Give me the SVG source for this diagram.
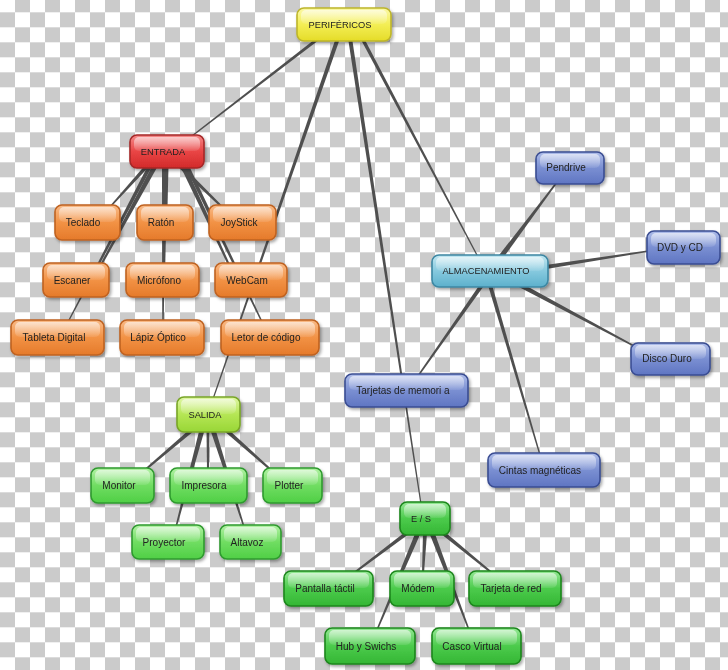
<svg xmlns="http://www.w3.org/2000/svg" width="728" height="670" viewBox="0 0 728 670">
<style>
.body{stroke-width:1.6}
.gloss{fill:url(#gloss)}
text{font-family:"Liberation Sans",Arial,sans-serif;font-size:10px;fill:#222;text-anchor:middle}
text.up{font-size:9.3px}
.yellow .body{fill:url(#gYellow);stroke:#bdb52a}
.red .body{fill:url(#gRed);stroke:#a52828}
.orange .body{fill:url(#gOrange);stroke:#bf6220}
.cyan .body{fill:url(#gCyan);stroke:#3c87a3}
.blue .body{fill:url(#gBlue);stroke:#3a4d92}
.lime .body{fill:url(#gLime);stroke:#78a526}
.lgreen .body{fill:url(#gLGreen);stroke:#2f9a2f}
.green .body{fill:url(#gGreen);stroke:#1d861d}
.node{filter:url(#shadow)}
#connectors polygon{fill:#4f4f4f}
</style>
<defs>
<pattern id="checker" x="0" y="-2.7" width="30" height="30" patternUnits="userSpaceOnUse">
<rect width="30" height="30" fill="#ffffff"/>
<rect x="15" y="0" width="15" height="15" fill="#cbcbcb"/>
<rect x="0" y="15" width="15" height="15" fill="#cbcbcb"/>
</pattern>
<filter id="shadow" x="-20%" y="-30%" width="140%" height="170%">
<feDropShadow dx="1.5" dy="2" stdDeviation="1.5" flood-color="#000" flood-opacity="0.35"/>
</filter>
<linearGradient id="gloss" x1="0" y1="0" x2="0" y2="1">
<stop offset="0" stop-color="#fff" stop-opacity="0.6"/>
<stop offset="1" stop-color="#fff" stop-opacity="0.08"/>
</linearGradient>
<linearGradient id="gYellow" x1="0" y1="0" x2="0" y2="1"><stop offset="0" stop-color="#fbf9a8"/><stop offset="0.5" stop-color="#f3ee55"/><stop offset="1" stop-color="#e5dc28"/></linearGradient>
<linearGradient id="gRed" x1="0" y1="0" x2="0" y2="1"><stop offset="0" stop-color="#f58a8a"/><stop offset="0.5" stop-color="#e94545"/><stop offset="1" stop-color="#d22a2a"/></linearGradient>
<linearGradient id="gOrange" x1="0" y1="0" x2="0" y2="1"><stop offset="0" stop-color="#f9bb88"/><stop offset="0.5" stop-color="#f29245"/><stop offset="1" stop-color="#e57a2a"/></linearGradient>
<linearGradient id="gCyan" x1="0" y1="0" x2="0" y2="1"><stop offset="0" stop-color="#c2e7f1"/><stop offset="0.5" stop-color="#86c9de"/><stop offset="1" stop-color="#5cb0cc"/></linearGradient>
<linearGradient id="gBlue" x1="0" y1="0" x2="0" y2="1"><stop offset="0" stop-color="#aebde9"/><stop offset="0.5" stop-color="#7a8fd2"/><stop offset="1" stop-color="#5f75c2"/></linearGradient>
<linearGradient id="gLime" x1="0" y1="0" x2="0" y2="1"><stop offset="0" stop-color="#e0f7a6"/><stop offset="0.5" stop-color="#b5e654"/><stop offset="1" stop-color="#98d636"/></linearGradient>
<linearGradient id="gLGreen" x1="0" y1="0" x2="0" y2="1"><stop offset="0" stop-color="#b2f2a4"/><stop offset="0.5" stop-color="#70dd62"/><stop offset="1" stop-color="#4fcf45"/></linearGradient>
<linearGradient id="gGreen" x1="0" y1="0" x2="0" y2="1"><stop offset="0" stop-color="#94e894"/><stop offset="0.5" stop-color="#4ccb4c"/><stop offset="1" stop-color="#34b634"/></linearGradient>
</defs>

<rect width="728" height="670" fill="url(#checker)"/>

<g id="connectors">
<polygon points="0,-1.5 1,-0.7 1,0.7 0,1.5" transform="translate(319 38) rotate(142.34) scale(160.4 1)"/>
<polygon points="0,-2 1,-0.6 1,0.6 0,2" transform="translate(338 38) rotate(109.1) scale(382 1)"/>
<polygon points="0,-2 1,-0.6 1,0.6 0,2" transform="translate(350 38) rotate(81.34) scale(471.4 1)"/>
<polygon points="0,-1.75 1,-0.6 1,0.6 0,1.75" transform="translate(362 38) rotate(62.09) scale(247.8 1)"/>
<polygon points="0,-2 1,-0.75 1,0.75 0,2" transform="translate(147 166) rotate(132.06) scale(55.2 1)"/>
<polygon points="0,-2.5 1,-1 1,1 0,2.5" transform="translate(155 166) rotate(118.61) scale(112.8 1)"/>
<polygon points="0,-2 1,-0.65 1,0.65 0,2" transform="translate(150 166) rotate(117.73) scale(176.2 1)"/>
<polygon points="0,-2.5 1,-1.5 1,1.5 0,2.5" transform="translate(166 166) rotate(90) scale(41 1)"/>
<polygon points="0,-2.5 1,-1.25 1,1.25 0,2.5" transform="translate(165 166) rotate(90.58) scale(99 1)"/>
<polygon points="0,-2 1,-0.75 1,0.75 0,2" transform="translate(164 166) rotate(90.37) scale(156 1)"/>
<polygon points="0,-2 1,-1 1,1 0,2" transform="translate(180 166) rotate(44.31) scale(58.7 1)"/>
<polygon points="0,-2.5 1,-1 1,1 0,2.5" transform="translate(183 166) rotate(65.08) scale(109.2 1)"/>
<polygon points="0,-2 1,-0.75 1,0.75 0,2" transform="translate(187 166) rotate(64.32) scale(173.1 1)"/>
<polygon points="0,-2.5 1,-0.75 1,0.75 0,2.5" transform="translate(500 258) rotate(-53.13) scale(95 1)"/>
<polygon points="0,-2 1,-0.75 1,0.75 0,2" transform="translate(546 267) rotate(-8.83) scale(104.2 1)"/>
<polygon points="0,-2.25 1,-0.75 1,0.75 0,2.25" transform="translate(520 285) rotate(28.15) scale(129.3 1)"/>
<polygon points="0,-2 1,-0.65 1,0.65 0,2" transform="translate(490 285) rotate(73.61) scale(177.2 1)"/>
<polygon points="0,-2 1,-0.75 1,0.75 0,2" transform="translate(482 285) rotate(125.12) scale(111.25 1)"/>
<polygon points="0,-2 1,-1 1,1 0,2" transform="translate(192 430) rotate(139.6) scale(61.7 1)"/>
<polygon points="0,-1.5 1,-1 1,1 0,1.5" transform="translate(208 430) rotate(90) scale(40 1)"/>
<polygon points="0,-2.5 1,-0.75 1,0.75 0,2.5" transform="translate(202 430) rotate(105.01) scale(100.4 1)"/>
<polygon points="0,-2.5 1,-0.75 1,0.75 0,2.5" transform="translate(213 430) rotate(72.28) scale(101.8 1)"/>
<polygon points="0,-2 1,-1 1,1 0,2" transform="translate(226 430) rotate(41.63) scale(60.2 1)"/>
<polygon points="0,-2 1,-1 1,1 0,2" transform="translate(407 533) rotate(142.96) scale(66.4 1)"/>
<polygon points="0,-2.5 1,-0.75 1,0.75 0,2.5" transform="translate(418 533) rotate(112.92) scale(105.3 1)"/>
<polygon points="0,-2 1,-1 1,1 0,2" transform="translate(425 533) rotate(92.86) scale(40.05 1)"/>
<polygon points="0,-2.5 1,-0.75 1,0.75 0,2.5" transform="translate(432 533) rotate(69.12) scale(103.8 1)"/>
<polygon points="0,-2 1,-1 1,1 0,2" transform="translate(443 533) rotate(39.23) scale(63.25 1)"/>
</g>

<g id="n-perifericos" class="node yellow"><rect class="body" x="297" y="8" width="94" height="33" rx="7"/><rect class="gloss" x="301" y="10" width="86" height="14" rx="5"/><text class="up" x="340" y="28">PERIFÉRICOS</text></g>
<g id="n-entrada" class="node red"><rect class="body" x="130" y="135" width="74" height="33" rx="7"/><rect class="gloss" x="134" y="137" width="66" height="14" rx="5"/><text class="up" x="163" y="155">ENTRADA</text></g>
<g id="n-teclado" class="node orange"><rect class="body" x="55" y="205" width="65" height="35" rx="7"/><rect class="gloss" x="59" y="207" width="57" height="15" rx="5"/><text x="83" y="226">Teclado</text></g>
<g id="n-raton" class="node orange"><rect class="body" x="137" y="205" width="56" height="35" rx="7"/><rect class="gloss" x="141" y="207" width="48" height="15" rx="5"/><text x="161" y="226">Ratón</text></g>
<g id="n-joystick" class="node orange"><rect class="body" x="209" y="205" width="67" height="35" rx="7"/><rect class="gloss" x="213" y="207" width="59" height="15" rx="5"/><text x="239" y="226">JoyStick</text></g>
<g id="n-escaner" class="node orange"><rect class="body" x="43" y="263" width="66" height="34" rx="7"/><rect class="gloss" x="47" y="265" width="58" height="15" rx="5"/><text x="72" y="284">Escaner</text></g>
<g id="n-microfono" class="node orange"><rect class="body" x="126" y="263" width="73" height="34" rx="7"/><rect class="gloss" x="130" y="265" width="65" height="15" rx="5"/><text x="159" y="284">Micrófono</text></g>
<g id="n-webcam" class="node orange"><rect class="body" x="215" y="263" width="72" height="34" rx="7"/><rect class="gloss" x="219" y="265" width="64" height="15" rx="5"/><text x="247" y="284">WebCam</text></g>
<g id="n-tableta" class="node orange"><rect class="body" x="11" y="320" width="93" height="35" rx="7"/><rect class="gloss" x="15" y="322" width="85" height="15" rx="5"/><text x="54" y="341">Tableta Digital</text></g>
<g id="n-lapiz" class="node orange"><rect class="body" x="120" y="320" width="84" height="35" rx="7"/><rect class="gloss" x="124" y="322" width="76" height="15" rx="5"/><text x="158" y="341">Lápiz Óptico</text></g>
<g id="n-letor" class="node orange"><rect class="body" x="221" y="320" width="98" height="35" rx="7"/><rect class="gloss" x="225" y="322" width="90" height="15" rx="5"/><text x="266" y="341">Letor de código</text></g>

<g id="n-pendrive" class="node blue"><rect class="body" x="536" y="152" width="68" height="32" rx="7"/><rect class="gloss" x="540" y="154" width="60" height="14" rx="5"/><text x="566" y="171">Pendrive</text></g>
<g id="n-dvd" class="node blue"><rect class="body" x="647" y="231" width="73" height="33" rx="7"/><rect class="gloss" x="651" y="233" width="65" height="14" rx="5"/><text x="680" y="251">DVD y CD</text></g>
<g id="n-almacenamiento" class="node cyan"><rect class="body" x="432" y="255" width="116" height="32" rx="7"/><rect class="gloss" x="436" y="257" width="108" height="14" rx="5"/><text class="up" x="486" y="274">ALMACENAMIENTO</text></g>
<g id="n-disco" class="node blue"><rect class="body" x="631" y="343" width="79" height="32" rx="7"/><rect class="gloss" x="635" y="345" width="71" height="14" rx="5"/><text x="667" y="362">Disco Duro</text></g>
<g id="n-tarjetas" class="node blue"><rect class="body" x="345" y="374" width="123" height="33" rx="7"/><rect class="gloss" x="349" y="376" width="115" height="14" rx="5"/><text x="403" y="394">Tarjetas de memori a</text></g>
<g id="n-cintas" class="node blue"><rect class="body" x="488" y="453" width="112" height="34" rx="7"/><rect class="gloss" x="492" y="455" width="104" height="15" rx="5"/><text x="540" y="474">Cintas magnéticas</text></g>

<g id="n-salida" class="node lime"><rect class="body" x="177" y="397" width="63" height="35" rx="7"/><rect class="gloss" x="181" y="399" width="55" height="15" rx="5"/><text class="up" x="205" y="418">SALIDA</text></g>
<g id="n-monitor" class="node lgreen"><rect class="body" x="91" y="468" width="63" height="35" rx="7"/><rect class="gloss" x="95" y="470" width="55" height="15" rx="5"/><text x="119" y="489">Monitor</text></g>
<g id="n-impresora" class="node lgreen"><rect class="body" x="170" y="468" width="77" height="35" rx="7"/><rect class="gloss" x="174" y="470" width="69" height="15" rx="5"/><text x="204" y="489">Impresora</text></g>
<g id="n-plotter" class="node lgreen"><rect class="body" x="263" y="468" width="59" height="35" rx="7"/><rect class="gloss" x="267" y="470" width="51" height="15" rx="5"/><text x="289" y="489">Plotter</text></g>
<g id="n-proyector" class="node lgreen"><rect class="body" x="132" y="525" width="72" height="34" rx="7"/><rect class="gloss" x="136" y="527" width="64" height="15" rx="5"/><text x="164" y="546">Proyector</text></g>
<g id="n-altavoz" class="node lgreen"><rect class="body" x="220" y="525" width="61" height="34" rx="7"/><rect class="gloss" x="224" y="527" width="53" height="15" rx="5"/><text x="247" y="546">Altavoz</text></g>

<g id="n-es" class="node green"><rect class="body" x="400" y="502" width="50" height="33" rx="7"/><rect class="gloss" x="404" y="504" width="42" height="14" rx="5"/><text class="up" x="421" y="522">E / S</text></g>
<g id="n-pantalla" class="node green"><rect class="body" x="284" y="571" width="89" height="35" rx="7"/><rect class="gloss" x="288" y="573" width="81" height="15" rx="5"/><text x="325" y="592">Pantalla táctil</text></g>
<g id="n-modem" class="node green"><rect class="body" x="390" y="571" width="64" height="35" rx="7"/><rect class="gloss" x="394" y="573" width="56" height="15" rx="5"/><text x="418" y="592">Módem</text></g>
<g id="n-tarjetared" class="node green"><rect class="body" x="469" y="571" width="92" height="35" rx="7"/><rect class="gloss" x="473" y="573" width="84" height="15" rx="5"/><text x="511" y="592">Tarjeta de red</text></g>
<g id="n-hub" class="node green"><rect class="body" x="325" y="628" width="90" height="36" rx="7"/><rect class="gloss" x="329" y="630" width="82" height="15" rx="5"/><text x="366" y="650">Hub y Swichs</text></g>
<g id="n-casco" class="node green"><rect class="body" x="432" y="628" width="89" height="36" rx="7"/><rect class="gloss" x="436" y="630" width="81" height="15" rx="5"/><text x="472" y="650">Casco Virtual</text></g>
</svg>
